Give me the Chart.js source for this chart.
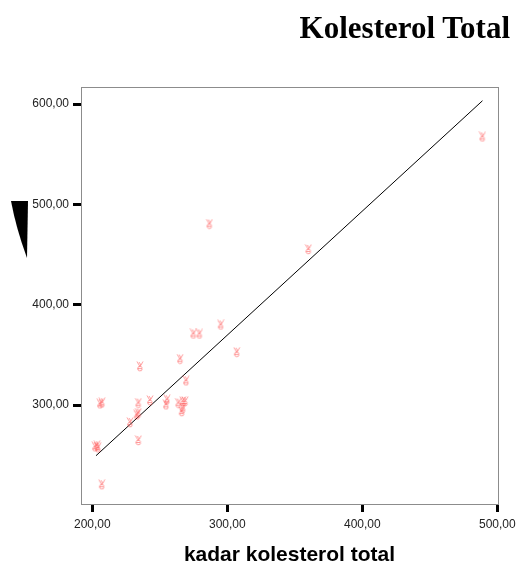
<!DOCTYPE html>
<html>
<head>
<meta charset="utf-8">
<script src="https://cdn.jsdelivr.net/npm/chart.js@4/dist/chart.umd.min.js"></script>
<style>
  html, body { margin: 0; padding: 0; background: #fff; }
  #wrap { position: relative; width: 516px; height: 568px; }
  #title {
    position: absolute; right: 6px; top: 10px;
    font: bold 31px "Liberation Serif", "Times New Roman", serif;
    color: #000; white-space: nowrap;
  }
</style>
</head>
<body>
<div id="wrap">
  <canvas id="chart" width="516" height="568"></canvas>
  <div id="title">Kolesterol Total</div>
</div>
<script>
// data
const kadarX = [202, 204.2, 203.5, 207, 205.7, 207.2, 234.1, 242.7, 234.1, 232.9, 227.9, 234.1, 235.3,
  254.6, 255.3, 263.7, 267, 267, 266.2, 268.7, 269.4, 265, 274.8, 279.3, 295.1, 307, 286.7, 360, 488.9];
const totalY = [258.5, 257.5, 259.5, 220.7, 301.3, 302.3, 302, 304.6, 292, 290.3, 282.7, 264.8, 338.4,
  300.3, 305.3, 302, 303.6, 297, 293.6, 303.6, 324.2, 345.8, 370.9, 370.9, 379.9, 352.7, 480.4, 455.2, 567.3];
const fitX = [202.7, 489];
const fitY = [249.6, 603.3];
const xTicks = [200, 300, 400, 500];
const yTicks = [300, 400, 500, 600];

const fmt = v => v.toFixed(2).replace('.', ',');

// little pink glyph used as marker
function makeGlyph() {
  const c = document.createElement('canvas');
  c.width = 8; c.height = 11;
  const g = c.getContext('2d');
  g.strokeStyle = 'rgba(255,90,90,0.6)';
  g.lineWidth = 1;
  g.beginPath();
  g.moveTo(1, 0.5); g.lineTo(4, 5.5); g.lineTo(7, 0.5);
  g.moveTo(3, 1); g.lineTo(5, 4);
  g.stroke();
  g.beginPath();
  g.arc(4, 7.5, 2.3, 0.2, Math.PI * 1.9);
  g.moveTo(1.8, 7.5); g.lineTo(6.3, 7.5);
  g.stroke();
  return c;
}

const frame = {
  id: 'frame',
  afterDraw(chart) {
    const { ctx, chartArea: a } = chart;
    ctx.save();
    ctx.strokeStyle = '#8c8c8c';
    ctx.lineWidth = 1;
    ctx.strokeRect(a.left + 0.5, a.top + 0.5, a.right - a.left, a.bottom - a.top);
    // cut-off axis title remnant on the left
    ctx.fillStyle = '#000';
    ctx.beginPath();
    ctx.moveTo(11, 201);
    ctx.lineTo(28, 201);
    ctx.lineTo(27, 258);
    ctx.quadraticCurveTo(16, 228, 11, 201);
    ctx.fill();
    ctx.restore();
  }
};

const ctx = document.getElementById('chart').getContext('2d');
new Chart(ctx, {
  type: 'scatter',
  data: {
    datasets: [
      {
        data: kadarX.map((x, i) => ({ x: x, y: totalY[i] })),
        pointStyle: makeGlyph(),
        pointRadius: 5
      },
      {
        type: 'line',
        data: fitX.map((x, i) => ({ x: x, y: fitY[i] })),
        borderColor: '#000',
        borderWidth: 1,
        pointRadius: 0,
        fill: false
      }
    ]
  },
  options: {
    responsive: false,
    animation: false,
    layout: { padding: { top: 87, right: 18, bottom: 0, left: 0 } },
    plugins: { legend: { display: false }, tooltip: { enabled: false } },
    scales: {
      x: {
        type: 'linear',
        min: 191.6, max: 500.5,
        afterBuildTicks: s => { s.ticks = xTicks.map(v => ({ value: v })); },
        afterFit: s => { s.height = 64; s.paddingLeft = 0; s.paddingRight = 0; },
        border: { color: '#8c8c8c', width: 1 },
        grid: { drawOnChartArea: false, tickLength: 8, tickWidth: 3, tickColor: '#000' },
        ticks: {
          color: '#222', padding: 5, maxRotation: 0,
          font: { family: 'Liberation Sans, Arial', size: 12 },
          callback: v => fmt(v)
        },
        title: {
          display: true, text: 'kadar kolesterol total', color: '#000',
          font: { family: 'Liberation Sans, Arial', size: 21, weight: 'bold' },
          padding: { top: 0, bottom: 0 }
        }
      },
      y: {
        type: 'linear',
        min: 201.5, max: 617,
        afterBuildTicks: s => { s.ticks = yTicks.map(v => ({ value: v })); },
        afterFit: s => { s.width = 81; s.paddingTop = 0; s.paddingBottom = 0; },
        border: { color: '#8c8c8c', width: 1 },
        grid: { drawOnChartArea: false, tickLength: 8, tickWidth: 3, tickColor: '#000' },
        ticks: {
          color: '#222', padding: 4,
          font: { family: 'Liberation Sans, Arial', size: 12 },
          callback: v => fmt(v)
        }
      }
    }
  },
  plugins: [frame]
});
</script>
</body>
</html>
